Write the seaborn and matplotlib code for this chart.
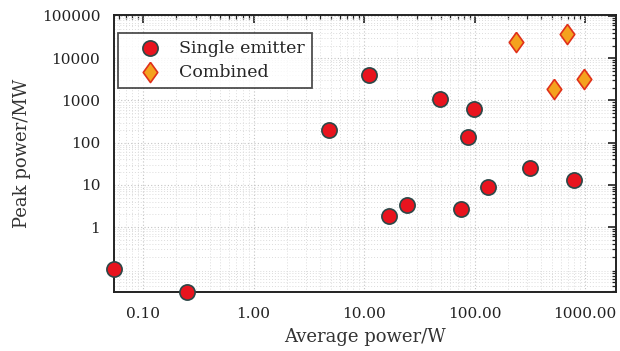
import matplotlib
matplotlib.use("Agg")
import matplotlib.pyplot as plt
import seaborn as sns
import pandas as pd
from matplotlib.ticker import LogLocator, FixedLocator, FixedFormatter, NullFormatter

single_avg = [0.055, 0.25, 4.8, 11.1, 49, 98, 88, 320, 790, 16.8, 24.4, 75, 131]
single_peak = [0.1, 0.029, 200, 4100, 1100, 620, 135, 25, 13, 1.8, 3.3, 2.7, 9]
comb_avg = [235, 690, 525, 980]
comb_peak = [24000, 38000, 1900, 3200]
series_names = ["Single emitter", "Combined"]
x_ticks = [0.1, 1, 10, 100, 1000]
x_tick_labels = ["0.10", "1.00", "10.00", "100.00", "1000.00"]
y_ticks = [1, 10, 100, 1000, 10000, 100000]
y_tick_labels = ["1", "10", "100", "1000", "10000", "100000"]

df = pd.DataFrame({
    "avg": single_avg + comb_avg,
    "peak": single_peak + comb_peak,
    "type": [series_names[0]] * len(single_avg) + [series_names[1]] * len(comb_avg),
})

sns.set_style("white")
plt.rcParams["font.family"] = ["DejaVu Serif", "Liberation Serif"]

fig = plt.figure(figsize=(6.2, 3.51), dpi=100)
ax = fig.add_axes([0.184, 0.168, 0.8095, 0.789])

diamond = [(0, 1), (0.72, 0), (0, -1), (-0.72, 0), (0, 1)]

sub1 = df[df["type"] == series_names[0]]
sub2 = df[df["type"] == series_names[1]]
sns.scatterplot(data=sub1, x="avg", y="peak", ax=ax, marker="o", s=120,
                color="#e8141e", edgecolor="#2c4848", linewidth=1.2,
                label=series_names[0], clip_on=False, zorder=5)
sns.scatterplot(data=sub2, x="avg", y="peak", ax=ax, marker=diamond, s=210,
                color="#f4a21e", edgecolor="#e0301a", linewidth=1.2,
                label=series_names[1], clip_on=False, zorder=5)

ax.set_xscale("log")
ax.set_yscale("log")
ax.set_xlim(0.0547, 1900)
ax.set_ylim(0.029, 1.05e5)

ax.xaxis.set_major_locator(FixedLocator(x_ticks))
ax.xaxis.set_major_formatter(FixedFormatter(x_tick_labels))
ax.yaxis.set_major_locator(FixedLocator(y_ticks))
ax.yaxis.set_major_formatter(FixedFormatter(y_tick_labels))
ax.xaxis.set_minor_locator(LogLocator(base=10, subs=range(2, 10), numticks=20))
ax.yaxis.set_minor_locator(LogLocator(base=10, subs=range(2, 10), numticks=20))
ax.xaxis.set_minor_formatter(NullFormatter())
ax.yaxis.set_minor_formatter(NullFormatter())

ax.tick_params(which="both", direction="in", top=True, right=True, labelsize=11, colors="#222222")
ax.tick_params(which="major", length=6, width=1.2)
ax.tick_params(which="minor", length=3, width=0.9)
ax.tick_params(axis="x", pad=11)
ax.tick_params(axis="y", pad=10)

ax.grid(True, which="major", linestyle=(0, (1, 2)), color="#c4c4c4", linewidth=0.8)
ax.grid(True, which="minor", linestyle=(0, (1, 2)), color="#dcdcdc", linewidth=0.7)
ax.set_axisbelow(True)

for sp in ax.spines.values():
    sp.set_color("#222222")
    sp.set_linewidth(1.4)

ax.set_xlabel("Average power/W", fontsize=13, color="#333333", labelpad=5)
ax.set_ylabel("Peak power/MW", fontsize=13, color="#333333", labelpad=8)

leg = ax.legend(loc="upper left", bbox_to_anchor=(0.008, 0.935), fontsize=12.5,
                frameon=True, fancybox=False, edgecolor="#222222",
                borderpad=0.4, handlelength=2.9, handletextpad=0.2, labelspacing=0.4,
                borderaxespad=0.0, markerscale=1.0)
leg.get_frame().set_linewidth(1.3)
leg.set_zorder(10)

fig.savefig("out.png", dpi=100, facecolor="white")
